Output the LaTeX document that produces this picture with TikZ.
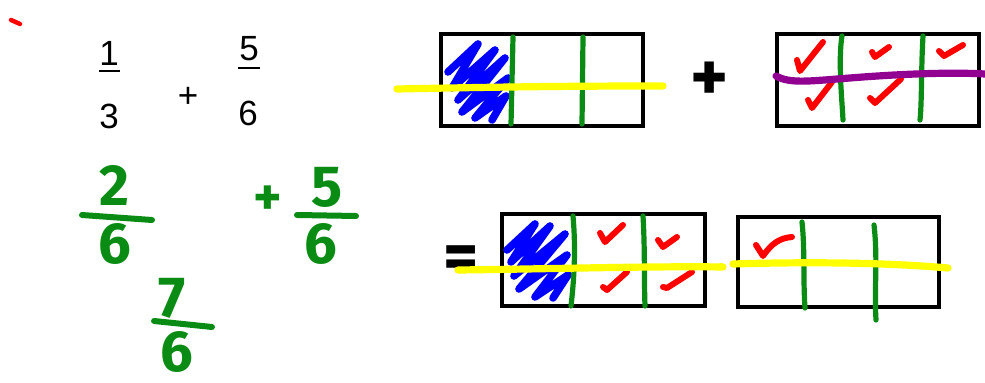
\documentclass[tikz,border=0pt]{standalone}
\usepackage{fontspec}
\setmainfont{Liberation Sans}
\newfontfamily\handfont{Fira Sans}
\usetikzlibrary{positioning}

\definecolor{pengreen}{RGB}{10,140,20}
\definecolor{penyellow}{RGB}{255,255,0}
\definecolor{penred}{RGB}{255,0,0}
\definecolor{penblue}{RGB}{0,0,255}
\definecolor{penpurple}{RGB}{145,0,145}

\tikzset{
    fracbox/.style={draw=black, line width=2pt},
    divider/.style={draw=pengreen, line width=2.6pt, line cap=round},
    marker/.style={draw=penyellow, line width=3.6pt, line cap=round},
    tick/.style={draw=penred, line width=3pt, line cap=round, line join=round},
    scribble/.style={draw=penblue, line width=3.8pt, line cap=round, line join=round},
    typed/.style={inner sep=0pt, font=\fontsize{17.5}{20}\selectfont},
    hand/.style={inner sep=0pt, text=pengreen, font=\handfont\bfseries\fontsize{29}{30}\selectfont},
    handbar/.style={draw=pengreen, line width=3pt, line cap=round},
}

\begin{document}
\begin{tikzpicture}[x=0.5pt, y=-0.5pt]
    \useasboundingbox (0,0) rectangle (985,383);

    % red dot
    \draw[tick, line width=2.2pt] (11,20) -- (20,24);

    % typed sum
    \node[typed] (numA) at (109,53) {1};
    \node[typed] (denA) at (109,116) {3};
    \node[typed] (plusA) at (188,97) {+};
    \node[typed] (numB) at (249,49) {5};
    \node[typed] (denB) at (248,113) {6};
    \draw[line width=0.6pt] (99,71) -- (120,71);
    \draw[line width=0.6pt] (238,68) -- (260,68);

    % handwritten sum
    \node[hand] (numC) at (114,185) {2};
    \draw[handbar] (82,215) -- (152,220);
    \node[hand] (denC) at (115,244) {6};
    \node[hand, font=\handfont\bfseries\fontsize{27}{28}\selectfont] (plusC) at (268,201) {+};
    \node[hand] (numD) at (327,187) {5};
    \draw[handbar] (297,215) -- (356,216);
    \node[hand] (denD) at (321,244) {6};
    \node[hand] (numE) at (172,298) {7};
    \draw[handbar] (154,321) -- (212,327);
    \node[hand] (denE) at (177,352) {6};

    % first bar: 1/3
    \draw[fracbox] (441,34) rectangle (643,126);
    \draw[scribble] (448,72) -- (478,44) -- (452,88) -- (495,50) -- (458,100)
        -- (505,58) -- (462,112) -- (508,78) -- (475,118) -- (506,96) -- (492,120);
    \draw[divider] (513,37) -- (511,124);
    \draw[divider] (583,37) -- (582,124);
    \draw[marker] (397,89) .. controls (500,87) and (560,86) .. (663,86);

    % plus
    \node[inner sep=0pt, font=\handfont\bfseries\fontsize{36}{38}\selectfont] (plusB) at (710,82) {+};

    % second bar: 5/6
    \draw[fracbox] (777,34) rectangle (979,126);
    \draw[tick] (797,60) -- (800,71) -- (823,42);
    \draw[tick] (808,100) -- (812,108) -- (832,82);
    \draw[tick] (872,52) -- (875,57) -- (889,47);
    \draw[tick] (870,98) -- (875,103) -- (901,79);
    \draw[tick] (939,51) -- (944,56) -- (963,45);
    \draw[divider] (842,36) .. controls (838,60) and (842,100) .. (843,120);
    \draw[divider] (923,36) .. controls (921,70) and (922,100) .. (920,120);
    \draw[draw=penpurple, line width=3.6pt, line cap=round]
        (776,76) .. controls (790,84) and (810,81) .. (850,78)
        .. controls (900,74) and (950,72) .. (985,74);

    % equals
    \node[inner sep=0pt, font=\handfont\bfseries\fontsize{34}{36}\selectfont] (eqA) at (461,263) {=};

    % third bar: 6/6
    \draw[fracbox] (502,214) rectangle (705,306);
    \draw[scribble] (507,250) -- (535,224) -- (511,262) -- (550,226) -- (514,276)
        -- (565,234) -- (519,289) -- (567,255) -- (535,297) -- (568,275) -- (553,298);
    \draw[tick] (600,233) -- (605,242) -- (623,225);
    \draw[tick] (603,287) -- (607,290) -- (627,272);
    \draw[tick] (658,240) -- (663,247) -- (677,237);
    \draw[tick] (663,287) -- (667,288) -- (692,272);
    \draw[divider] (573,216) .. controls (576,250) and (574,280) .. (571,306);
    \draw[divider] (643,216) .. controls (645,250) and (644,280) .. (645,306);
    \draw[marker] (458,270) .. controls (550,269) and (650,266) .. (723,267);

    % fourth bar: 1/6
    \draw[fracbox] (738,217) rectangle (939,307);
    \draw[tick] (756,245) -- (763,256) .. controls (772,243) and (780,238) .. (792,237);
    \draw[divider] (802,222) .. controls (805,250) and (803,280) .. (805,308);
    \draw[divider] (874,225) .. controls (878,260) and (874,290) .. (876,320);
    \fill[penyellow] (721,266) circle (3);
    \draw[marker] (733,264) .. controls (800,262) and (880,262) .. (948,268);
\end{tikzpicture}
\end{document}
